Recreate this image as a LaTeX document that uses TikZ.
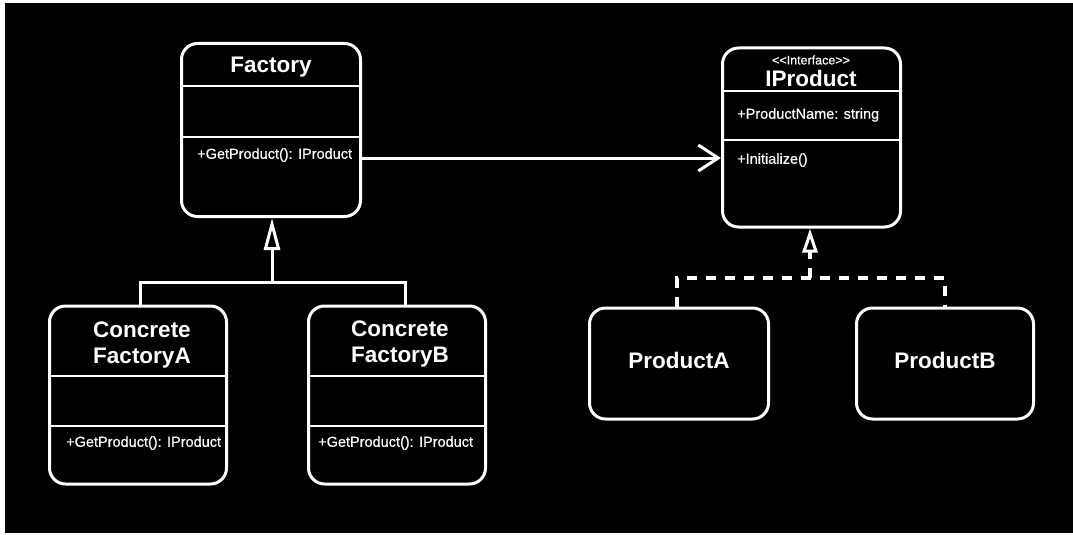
\documentclass[tikz,border=0pt]{standalone}
\usepackage{fontspec}
\setmainfont{Liberation Sans}
\newfontfamily\memfont[FakeBold=0.6]{Liberation Sans}
\usetikzlibrary{arrows.meta}
\tikzset{
  cls/.style={draw=white, line width=3pt, rounded corners=16pt, fill=black, inner sep=0pt},
  sep/.style={draw=white, line width=2pt},
  ttl/.style={text=white, font=\fontsize{22.5}{25.5}\selectfont\bfseries, align=center, inner sep=0pt},
  mem/.style={text=white, font=\fontsize{14.5}{16}\memfont, anchor=west, inner sep=0pt},
  stereo/.style={text=white, font=\fontsize{12.5}{14}\memfont, inner sep=0pt},
  link/.style={draw=white, line width=3pt},
  dlink/.style={draw=white, line width=4pt, dash pattern=on 10pt off 9pt},
}
\begin{document}
\begin{tikzpicture}[x=1pt,y=-1pt]
\useasboundingbox (0,0) rectangle (1073,535);
\fill[white] (0,0) rectangle (1073,535);
\fill[black] (5,3) rectangle (1073,533);

% Factory
\node[cls, minimum width=179pt, minimum height=173pt] (fac) at (271,130) {};
\draw[sep] (fac.west |- 0,86) -- (fac.east |- 0,86);
\draw[sep] (fac.west |- 0,137) -- (fac.east |- 0,137);
\node[ttl] (facT) at (271,67) {Factory};
\node[mem] (facM) at (197,155) {+GetProduct(): IProduct};

% IProduct
\node[cls, minimum width=178pt, minimum height=179pt] (ip) at (811.5,137.5) {};
\draw[sep] (ip.west |- 0,91) -- (ip.east |- 0,91);
\draw[sep] (ip.west |- 0,140) -- (ip.east |- 0,140);
\node[stereo] (ipS) at (811,60) {{<}{<}Interface{>}{>}};
\node[ttl] (ipT) at (811,78) {IProduct};
\node[mem] (ipA) at (737,115) {+ProductName: string};
\node[mem] (ipM) at (737,160) {+Initialize()};

% Concrete Factory A
\node[cls, minimum width=177pt, minimum height=178pt] (cfa) at (138,395) {};
\draw[sep] (cfa.west |- 0,376) -- (cfa.east |- 0,376);
\draw[sep] (cfa.west |- 0,426) -- (cfa.east |- 0,426);
\node[ttl] (cfaT) at (142,345) {Concrete\\FactoryA};
\node[mem] (cfaM) at (66,443) {+GetProduct(): IProduct};

% Concrete Factory B
\node[cls, minimum width=177pt, minimum height=178pt] (cfb) at (397,395) {};
\draw[sep] (cfb.west |- 0,376) -- (cfb.east |- 0,376);
\draw[sep] (cfb.west |- 0,426) -- (cfb.east |- 0,426);
\node[ttl] (cfbT) at (400,344) {Concrete\\FactoryB};
\node[mem] (cfbM) at (318,443) {+GetProduct(): IProduct};

% Products
\node[cls, minimum width=179pt, minimum height=111pt] (pa) at (679,363.5) {};
\node[ttl] (paT) at (679,360) {ProductA};
\node[cls, minimum width=177pt, minimum height=111pt] (pb) at (945,363.5) {};
\node[ttl] (pbT) at (945,360) {ProductB};

% association
\draw[link, -{Straight Barb[length=20pt, width=26pt, line width=3pt]}] (fac.east |- 0,158) -- (ip.west |- 0,158);

% generalization
\coordinate (ja) at (140,282);
\coordinate (jm) at (272,282);
\coordinate (jb) at (405,282);
\draw[link] (cfa.north -| ja) -- (ja) -- (jb) -- (cfb.north -| jb);
\draw[link, -{Triangle[open, length=32pt, width=16pt, line width=3pt]}] (jm) -- (fac.south -| jm);

% realization
\coordinate (ka) at (677,278);
\coordinate (km) at (810,278);
\coordinate (kb) at (945,278);
\draw[dlink] (pa.north -| ka) -- (ka) -- (kb) -- (pb.north -| kb);
\draw[dlink, -{Triangle[open, length=24pt, width=15pt, line width=3pt]}] (km) -- (ip.south -| km);
\end{tikzpicture}
\end{document}
